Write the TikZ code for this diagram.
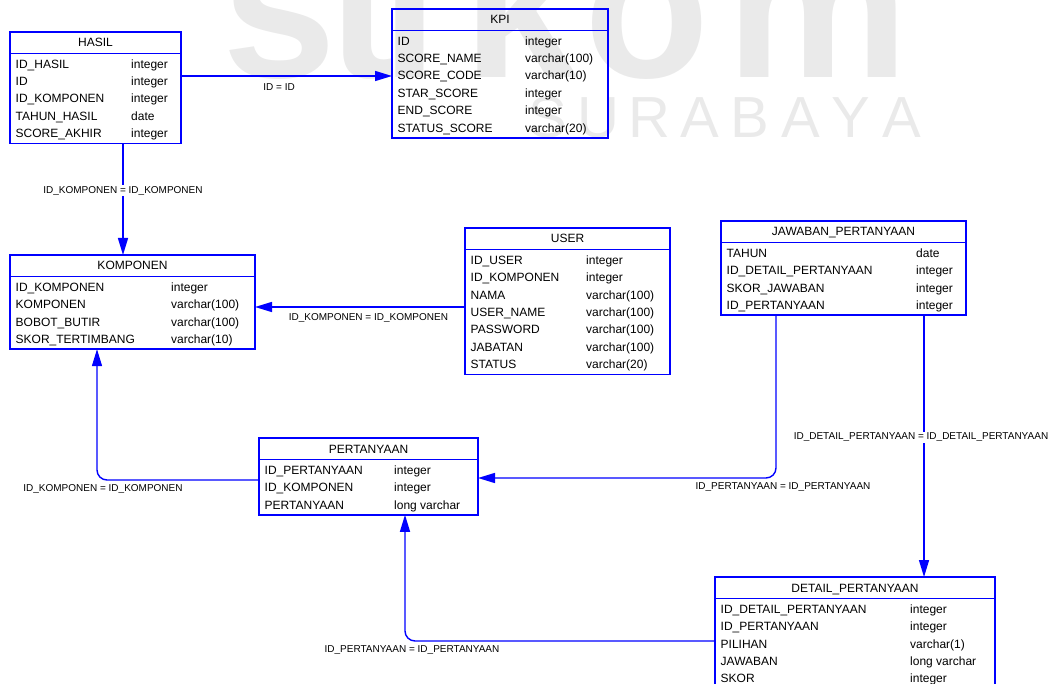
\documentclass[tikz,border=0pt]{standalone}
\usepackage{fontspec}
\setmainfont{Liberation Sans}
\usetikzlibrary{calc,arrows.meta}

\definecolor{erblue}{RGB}{0,0,255}
\definecolor{wmark}{RGB}{234,234,234}

% Entity table: #1 name, #2 left, #3 top, #4 width, #5 type column offset,
% #6 number of rows, #7 title, #8 list of field/type pairs
\newcommand\ertable[8]{%
  \node[tablebox, anchor=north west, minimum width=#4pt,
        minimum height=24.6pt+17.4pt*#6] (#1) at (#2,#3) {};
  \node[titletext] (#1-title) at ($(#1.north)+(0,15)$) {#7};
  \draw[tableline] ($(#1.north west)+(0,21.5)$) -- ($(#1.north east)+(0,21.5)$);
  \foreach \fname/\ftype [count=\rowi] in {#8}{%
    \node[rowtext] (#1-n\rowi) at ($(#1.north west)+(5.5,{36.2+17.4*(\rowi-1)})$) {\fname};
    \node[rowtext] (#1-t\rowi) at ($(#1.north west)+(#5,{36.2+17.4*(\rowi-1)})$) {\ftype};
  }%
}

\begin{document}
\begin{tikzpicture}[x=1pt,y=-1pt,
  tablebox/.style={draw=erblue, line width=1.5pt, inner sep=0pt, outer sep=0pt, rectangle},
  tableline/.style={draw=erblue, line width=1.5pt},
  titletext/.style={font=\fontsize{12}{14}\selectfont, inner sep=0pt, anchor=base},
  rowtext/.style={font=\fontsize{12}{14}\selectfont, inner sep=0pt, anchor=base west},
  relation/.style={draw=erblue, line width=1.4pt, -{Triangle[length=17pt,width=10pt]}},
  rellabel/.style={font=\fontsize{10}{12}\selectfont, inner sep=1pt},
  crosslabel/.style={rellabel, fill=white},
  wm/.style={text=wmark, inner sep=0pt, anchor=base}]

\clip (0,0) rectangle (1056,684);

% background logo lettering
\foreach \ch/\cx [count=\j] in {s/280, t/362, i/410, k/520, o/647, m/818}
  \node[wm, font=\fontsize{205}{205}\selectfont\bfseries] (logo-\j) at (\cx,78) {\ch};
\foreach \ch [count=\j] in {S,U,R,A,B,A,Y,A}
  \node[wm, font=\fontsize{58}{58}\selectfont] (city-\j) at ({548+50.5*(\j-1)},138) {\ch};

% entities
\ertable{hasil}{10}{32}{171}{121}{5}{HASIL}{ID\_HASIL/integer, ID/integer, ID\_KOMPONEN/integer, TAHUN\_HASIL/date, SCORE\_AKHIR/integer}
\ertable{kpi}{392}{9}{216}{133}{6}{KPI}{ID/integer, SCORE\_NAME/varchar(100), SCORE\_CODE/varchar(10), STAR\_SCORE/integer, END\_SCORE/integer, STATUS\_SCORE/varchar(20)}
\ertable{komponen}{10}{255}{245}{161}{4}{KOMPONEN}{ID\_KOMPONEN/integer, KOMPONEN/varchar(100), BOBOT\_BUTIR/varchar(100), SKOR\_TERTIMBANG/varchar(10)}
\ertable{user}{465}{228}{205}{121}{7}{USER}{ID\_USER/integer, ID\_KOMPONEN/integer, NAMA/varchar(100), USER\_NAME/varchar(100), PASSWORD/varchar(100), JABATAN/varchar(100), STATUS/varchar(20)}
\ertable{jawaban}{721}{221}{245}{195}{4}{JAWABAN\_PERTANYAAN}{TAHUN/date, ID\_DETAIL\_PERTANYAAN/integer, SKOR\_JAWABAN/integer, ID\_PERTANYAAN/integer}
\ertable{pertanyaan}{259}{438}{219}{135}{3}{PERTANYAAN}{ID\_PERTANYAAN/integer, ID\_KOMPONEN/integer, PERTANYAAN/long varchar}
\ertable{detail}{715}{577}{280}{195}{5}{DETAIL\_PERTANYAAN}{ID\_DETAIL\_PERTANYAAN/integer, ID\_PERTANYAAN/integer, PILIHAN/varchar(1), JAWABAN/long varchar, SKOR/integer}

% relationships
\coordinate (hk-a) at ($(hasil.north east)+(0,44)$);
\draw[relation] (hk-a) -- (hk-a -| kpi.west)
  node[rellabel, pos=0.465, below=6pt] {ID = ID};

\coordinate (hk-b) at ($(hasil.south west)+(113,0)$);
\draw[relation] (hk-b) -- (hk-b |- komponen.north)
  node[crosslabel, pos=0.425] {ID\_KOMPONEN = ID\_KOMPONEN};

\coordinate (uk) at ($(user.north west)+(0,79)$);
\draw[relation] (uk) -- (uk -| komponen.east)
  node[rellabel, pos=0.46, below=5pt] {ID\_KOMPONEN = ID\_KOMPONEN};

\coordinate (pk) at ($(pertanyaan.north west)+(0,42)$);
\coordinate (kb) at ($(komponen.south west)+(87,0)$);
\draw[relation, rounded corners=10pt] (pk) -- (pk -| kb)
  node[rellabel, below=3pt, xshift=6pt] {ID\_KOMPONEN = ID\_KOMPONEN} -- (kb);

\coordinate (jp) at ($(jawaban.south west)+(55,0)$);
\coordinate (pe) at ($(pertanyaan.north east)+(0,40)$);
\draw[relation, rounded corners=10pt] (jp) -- (jp |- pe)
  node[rellabel, below=3pt, xshift=7pt] {ID\_PERTANYAAN = ID\_PERTANYAAN} -- (pe);

\coordinate (jd) at ($(jawaban.south west)+(203,0)$);
\draw[relation] (jd) -- (jd |- detail.north)
  node[crosslabel, pos=0.466, xshift=-3pt] {ID\_DETAIL\_PERTANYAAN = ID\_DETAIL\_PERTANYAAN};

\coordinate (dp) at ($(detail.north west)+(0,64)$);
\coordinate (pb) at ($(pertanyaan.south west)+(146,0)$);
\draw[relation, rounded corners=10pt] (dp) -- (dp -| pb)
  node[rellabel, below=3pt, xshift=7pt] {ID\_PERTANYAAN = ID\_PERTANYAAN} -- (pb);

\end{tikzpicture}
\end{document}
